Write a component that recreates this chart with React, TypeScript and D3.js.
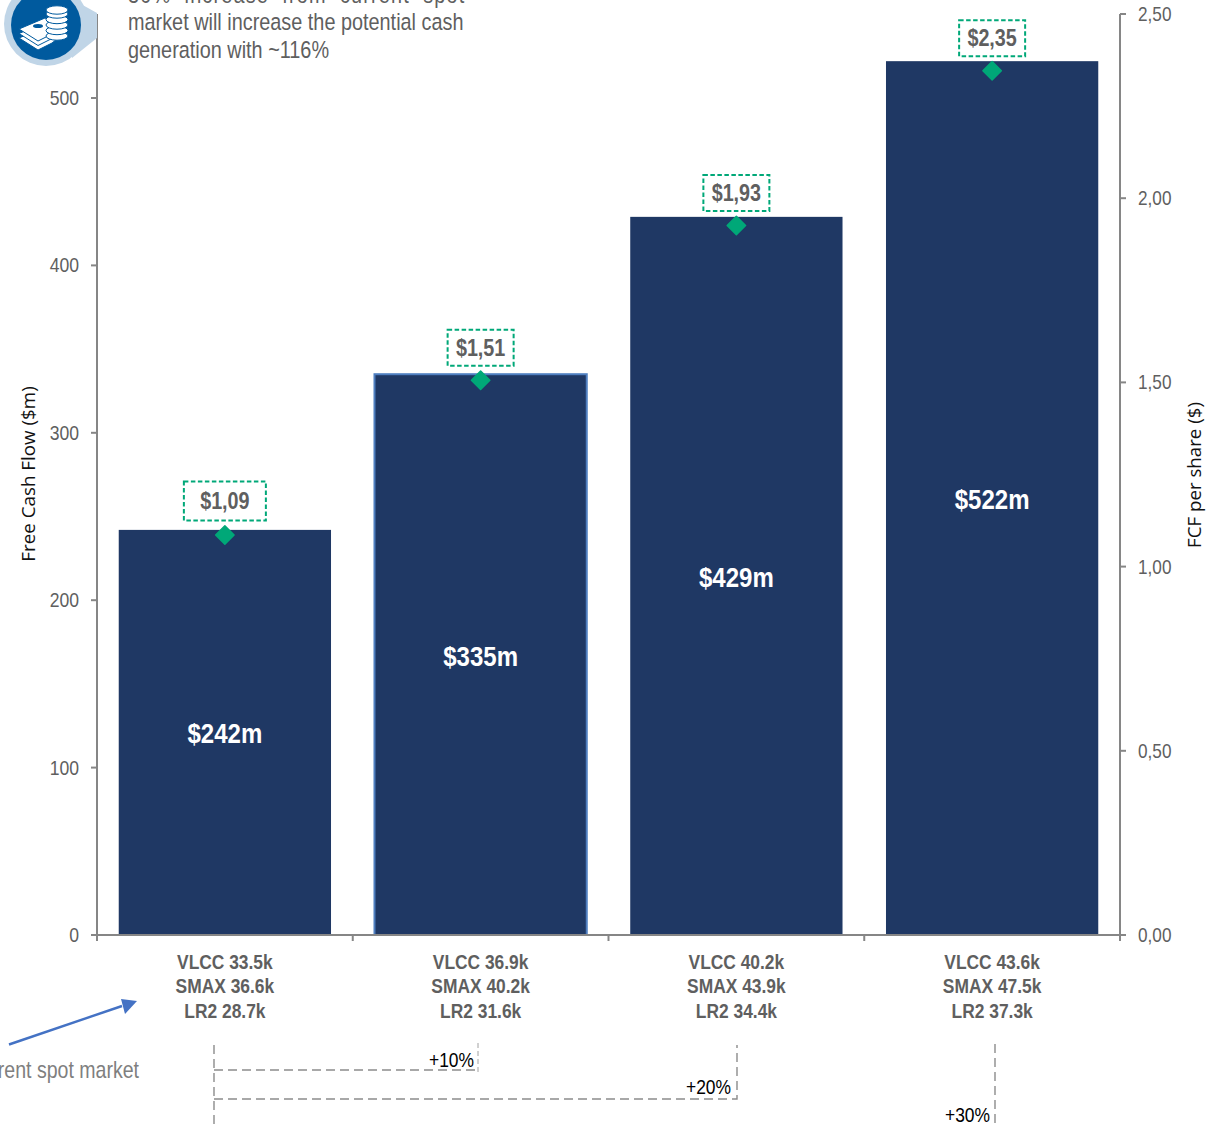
import React, { useEffect, useRef } from 'react';
import * as d3 from 'd3';

const scenarios = ['s0', 's1', 's2', 's3'];
const fcf = [242, 335, 429, 522];
const fcfLabels = ['$242m', '$335m', '$429m', '$522m'];
const perShare = [1.09, 1.51, 1.93, 2.35];
const perShareLabels = ['$1,09', '$1,51', '$1,93', '$2,35'];
const vlcc = ['VLCC 33.5k', 'VLCC 36.9k', 'VLCC 40.2k', 'VLCC 43.6k'];
const smax = ['SMAX 36.6k', 'SMAX 40.2k', 'SMAX 43.9k', 'SMAX 47.5k'];
const lr2 = ['LR2 28.7k', 'LR2 31.6k', 'LR2 34.4k', 'LR2 37.3k'];
const leftTicks = [0, 100, 200, 300, 400, 500];
const rightTicks = [0, 0.5, 1, 1.5, 2, 2.5];
const upliftLabels = ['+10%', '+20%', '+30%'];
const noteLines = ['30%  increase  from  current  spot', 'market will increase the potential cash', 'generation with ~116%'];

const FONT = '"Liberation Sans", Arial, sans-serif';
const GREY = '#5f5f5f';
const NAVY = '#1f3864';
const GREEN = '#00a878';

const App: React.FC = () => {
  const chartRef = useRef<SVGSVGElement | null>(null);

  useEffect(() => {
    const svg = d3.select(chartRef.current);
    svg.selectAll('*').remove();

    const x0 = 97;
    const x1 = 1120;
    const yBase = 935;

    const x = d3.scaleBand().domain(scenarios).range([x0, x1]).paddingInner(0.17).paddingOuter(0.085);
    const y = d3.scaleLinear().domain([0, 500]).range([yBase, 98]);
    const yRight = d3.scaleLinear().domain([0, 2.5]).range([yBase, 14]);
    const outer = d3.scaleBand().domain(scenarios).range([x0, x1]);

    // bars
    svg.append('g').selectAll('rect')
      .data(fcf)
      .enter().append('rect')
      .attr('x', (_, i) => x(scenarios[i])!)
      .attr('y', d => y(d))
      .attr('width', x.bandwidth())
      .attr('height', d => yBase - y(d))
      .attr('fill', NAVY)
      .attr('stroke', (_, i) => (i === 1 ? '#4f7fc0' : 'none'))
      .attr('stroke-width', 2);

    const cx = (i: number) => x(scenarios[i])! + x.bandwidth() / 2;

    // axes
    const axisColor = '#868686';
    const axes = svg.append('g').attr('stroke', axisColor).attr('stroke-width', 2).attr('fill', 'none');
    axes.append('line').attr('x1', x0).attr('x2', x0).attr('y1', 14).attr('y2', yBase);
    axes.append('line').attr('x1', x1).attr('x2', x1).attr('y1', 14).attr('y2', yBase + 6);
    axes.append('line').attr('x1', x0 - 6).attr('x2', x1).attr('y1', yBase).attr('y2', yBase);
    leftTicks.forEach(t => {
      axes.append('line').attr('x1', x0 - 6).attr('x2', x0).attr('y1', y(t)).attr('y2', y(t));
    });
    rightTicks.forEach(t => {
      axes.append('line').attr('x1', x1).attr('x2', x1 + 6).attr('y1', yRight(t)).attr('y2', yRight(t));
    });
    [0, 1, 2, 3, 4].forEach(i => {
      const px = x0 + i * outer.bandwidth();
      axes.append('line').attr('x1', px).attr('x2', px).attr('y1', yBase).attr('y2', yBase + 6);
    });

    // no narrow font installed, so squeeze Liberation Sans horizontally
    const text = (px: number, py: number, s: string, size: number, fill: string, anchor = 'middle', weight = 'normal', sx = 0.86) =>
      svg.append('text')
        .attr('transform', `translate(${px},${py}) scale(${sx},1)`)
        .attr('text-anchor', anchor)
        .attr('font-family', FONT)
        .attr('font-size', size)
        .attr('font-weight', weight)
        .attr('fill', fill)
        .text(s);

    leftTicks.forEach(t => text(79, y(t) + 7, String(t), 20, GREY, 'end', 'normal', 0.88));
    rightTicks.forEach(t => text(1138, yRight(t) + 7, t.toFixed(2).replace('.', ','), 20, GREY, 'start'));

    // axis titles
    svg.append('text')
      .attr('transform', 'translate(35,474) rotate(-90)')
      .attr('text-anchor', 'middle')
      .attr('font-family', '"Open Sans", sans-serif')
      .attr('font-size', 18.8)
      .attr('fill', '#111')
      .text('Free Cash Flow ($m)');
    svg.append('text')
      .attr('transform', 'translate(1201,475) rotate(-90)')
      .attr('text-anchor', 'middle')
      .attr('font-family', '"Open Sans", sans-serif')
      .attr('font-size', 18.7)
      .attr('fill', '#111')
      .text('FCF per share ($)');

    // bar values and rate labels
    fcf.forEach((d, i) => {
      text(cx(i), (yBase + y(d)) / 2 + 11, fcfLabels[i], 27, '#fff', 'middle', 'bold', 0.89);
      text(cx(i), 969, vlcc[i], 20, GREY, 'middle', 'bold', 0.87);
      text(cx(i), 993, smax[i], 20, GREY, 'middle', 'bold', 0.87);
      text(cx(i), 1018, lr2[i], 20, GREY, 'middle', 'bold', 0.87);
    });

    // per share diamonds and boxes
    const boxW = [82, 66, 66, 66];
    const boxH = [39, 36, 36, 36];
    const diamond = d3.symbol().type(d3.symbolSquare).size(170);
    perShare.forEach((d, i) => {
      const py = yRight(d);
      svg.append('path')
        .attr('d', diamond()!)
        .attr('transform', `translate(${cx(i)},${py + 1.5}) rotate(45)`)
        .attr('fill', GREEN)
        .attr('stroke', GREEN)
        .attr('stroke-width', 1.5)
        .attr('stroke-linejoin', 'round');
      const bottom = py - 13;
      svg.append('rect')
        .attr('x', cx(i) - boxW[i] / 2).attr('y', bottom - boxH[i])
        .attr('width', boxW[i]).attr('height', boxH[i])
        .attr('fill', '#fff')
        .attr('stroke', GREEN)
        .attr('stroke-width', 2)
        .attr('stroke-dasharray', '4.5 2.5');
      text(cx(i), bottom - boxH[i] / 2 + 8, perShareLabels[i], 23, GREY, 'middle', 'bold');
    });

    // uplift brackets
    const dash = svg.append('g').attr('fill', 'none').attr('stroke', '#8c8c8c').attr('stroke-width', 1.4).attr('stroke-dasharray', '9 5');
    dash.append('path').attr('d', 'M214,1045V1127');
    dash.append('path').attr('d', 'M214,1070H478');
    dash.append('path').attr('d', 'M478,1043V1073').attr('stroke-width', 0.8).attr('stroke-dasharray', '5 3');
    dash.append('path').attr('d', 'M214,1099H737V1045');
    dash.append('path').attr('d', 'M995,1044V1127');
    text(474, 1067, upliftLabels[0], 21, '#000', 'end', 'normal', 0.83);
    text(731, 1094, upliftLabels[1], 21, '#000', 'end', 'normal', 0.83);
    text(990, 1122, upliftLabels[2], 21, '#000', 'end', 'normal', 0.83);

    // current spot market callout
    svg.append('path').attr('d', 'M9,1044.5L122,1006').attr('stroke', '#4472c4').attr('stroke-width', 2.4).attr('fill', 'none');
    svg.append('path').attr('d', 'M137,1001L121,999L125,1014Z').attr('fill', '#4472c4');
    text(139, 1078, 'Current spot market', 23, '#7f7f7f', 'end', 'normal', 0.85);

    // note at top left
    text(128, 3, noteLines[0], 23.5, GREY, 'start', 'normal', 0.845).attr('textLength', 398).attr('lengthAdjust', 'spacing').attr('xml:space', 'preserve');
    text(128, 30, noteLines[1], 23.5, GREY, 'start', 'normal', 0.845);
    text(128, 58, noteLines[2], 23.5, GREY, 'start', 'normal', 0.845);

    // cash icon
    const icon = svg.append('g');
    icon.append('path').attr('d', 'M70,-2L97,13V38L72,58Z').attr('fill', '#c0d5e7');
    icon.append('circle').attr('cx', 46).attr('cy', 24).attr('r', 42).attr('fill', '#c0d5e7');
    icon.append('circle').attr('cx', 46).attr('cy', 25).attr('r', 35).attr('fill', '#005a9e');
    const notes = icon.append('g').attr('fill', '#fff').attr('stroke', '#005a9e').attr('stroke-width', 1);
    [9, 4.5, 0].forEach(o => {
      notes.append('path').attr('d', `M19,${29 + o}L45,${18 + o}L62,${26 + o}L52,${34 + o}L38,${41 + o}Z`);
    });
    icon.append('ellipse').attr('cx', 38).attr('cy', 26).attr('rx', 5).attr('ry', 2).attr('fill', '#005a9e');
    [36, 30.5, 25, 19.5, 14, 10].forEach(cy => {
      icon.append('ellipse').attr('cx', 57).attr('cy', cy).attr('rx', 11).attr('ry', 4.2).attr('fill', '#fff').attr('stroke', '#005a9e').attr('stroke-width', 1);
    });
  }, []);

  return (
    <svg
      ref={chartRef}
      width={1219}
      height={1127}
      style={{ position: 'absolute', left: 0, top: 0, background: '#fff' }}
    />
  );
};

export default App;
